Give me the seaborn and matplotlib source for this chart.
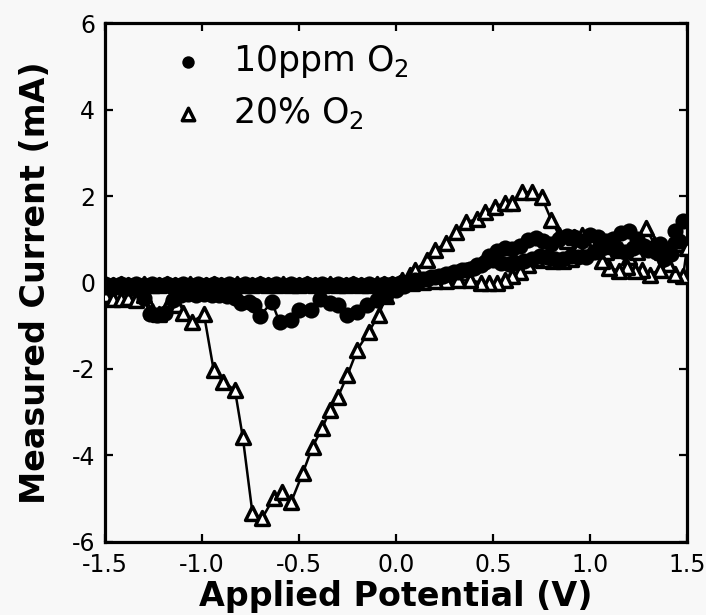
import numpy as np
import pandas as pd
import matplotlib
matplotlib.use("Agg")
import matplotlib.pyplot as plt
import seaborn as sns

# flat (upper) branch on the negative side, shared by both series
flat_x = [-1.50, -1.46, -1.42, -1.38, -1.34, -1.30, -1.26, -1.22, -1.18, -1.14,
          -1.10, -1.06, -1.02, -0.98, -0.94, -0.90, -0.86, -0.82, -0.78, -0.74,
          -0.70, -0.66, -0.62, -0.58, -0.54, -0.50, -0.46, -0.42, -0.38, -0.34,
          -0.30, -0.26, -0.22, -0.18, -0.14, -0.10, -0.06, -0.02]
flat_dots_y = [-0.04, -0.06, -0.03, -0.05, -0.04, -0.06, -0.03, -0.05, -0.04, -0.06,
               -0.03, -0.05, -0.04, -0.06, -0.03, -0.05, -0.04, -0.06, -0.03, -0.05,
               -0.04, -0.06, -0.03, -0.05, -0.04, -0.06, -0.03, -0.05, -0.04, -0.06,
               -0.03, -0.05, -0.04, -0.06, -0.03, -0.05, -0.04, -0.03]
flat_tri_y = [-0.05, -0.05, -0.04, -0.05, -0.05, -0.04, -0.05, -0.05, -0.04, -0.05,
              -0.05, -0.04, -0.05, -0.05, -0.04, -0.05, -0.05, -0.04, -0.05, -0.05,
              -0.04, -0.05, -0.05, -0.04, -0.05, -0.05, -0.04, -0.05, -0.05, -0.04,
              -0.05, -0.05, -0.04, -0.05, -0.05, -0.04, -0.04, -0.03]

# 10ppm O2 (dots)
dots_neg_x = [-1.50, -1.46, -1.42, -1.38, -1.34, -1.30, -1.27, -1.23, -1.19, -1.15,
              -1.11, -1.07, -1.03, -0.99, -0.95, -0.91, -0.87, -0.83, -0.80, -0.76,
              -0.73, -0.70, -0.64, -0.60, -0.54, -0.50, -0.44, -0.39, -0.34, -0.30,
              -0.25, -0.20, -0.15, -0.10, -0.05, 0.00]
dots_neg_y = [-0.10, -0.12, -0.10, -0.12, -0.15, -0.35, -0.72, -0.76, -0.70, -0.40,
              -0.30, -0.27, -0.29, -0.26, -0.28, -0.30, -0.32, -0.35, -0.47, -0.45,
              -0.52, -0.77, -0.45, -0.92, -0.87, -0.64, -0.64, -0.38, -0.47, -0.52,
              -0.75, -0.68, -0.52, -0.40, -0.29, -0.17]
dots_out_x = [0.04, 0.08, 0.12, 0.16, 0.20, 0.24, 0.28, 0.32, 0.36, 0.40,
              0.44, 0.48, 0.52, 0.56, 0.60, 0.64, 0.68, 0.72, 0.76, 0.80,
              0.84, 0.88, 0.92, 0.96, 1.00, 1.04, 1.08, 1.12, 1.16, 1.20,
              1.24, 1.28, 1.32, 1.36, 1.40, 1.44, 1.48]
dots_out_y = [-0.08, -0.02, 0.03, 0.08, 0.12, 0.16, 0.20, 0.24, 0.28, 0.33,
              0.40, 0.62, 0.72, 0.80, 0.78, 0.85, 0.98, 1.02, 0.95, 0.90,
              1.00, 1.08, 1.05, 0.95, 1.10, 1.05, 0.95, 1.00, 1.15, 1.18,
              1.00, 0.85, 0.80, 0.90, 0.75, 1.20, 1.42]
dots_back_x = [1.46, 1.42, 1.38, 1.34, 1.30, 1.26, 1.22, 1.18, 1.14, 1.10,
               1.06, 1.02, 0.98, 0.94, 0.90, 0.86, 0.82, 0.78, 0.74, 0.70,
               0.66, 0.62, 0.58, 0.54, 0.50, 0.46, 0.42, 0.38, 0.34, 0.30,
               0.26, 0.22, 0.18, 0.14, 0.10, 0.06, 0.02]
dots_back_y = [0.95, 0.65, 0.55, 0.70, 0.75, 0.85, 0.80, 0.70, 0.75, 0.85,
               0.80, 0.70, 0.60, 0.58, 0.62, 0.55, 0.55, 0.58, 0.62, 0.55,
               0.50, 0.45, 0.42, 0.45, 0.52, 0.48, 0.40, 0.32, 0.28, 0.25,
               0.20, 0.15, 0.12, 0.08, 0.05, 0.02, -0.02]

# 20% O2 (triangles)
tri_neg_x = [-1.50, -1.46, -1.42, -1.38, -1.34, -1.30, -1.26, -1.22, -1.17, -1.13,
             -1.10, -1.05, -0.99, -0.94, -0.89, -0.83, -0.79, -0.74, -0.69, -0.63,
             -0.59, -0.54, -0.48, -0.43, -0.38, -0.34, -0.30, -0.25, -0.20, -0.14,
             -0.09, -0.05, -0.01]
tri_neg_y = [-0.30, -0.38, -0.38, -0.36, -0.40, -0.30, -0.65, -0.72, -0.47, -0.52,
             -0.71, -0.91, -0.73, -2.02, -2.30, -2.49, -3.57, -5.33, -5.45, -4.98,
             -4.84, -5.07, -4.40, -3.80, -3.36, -2.95, -2.65, -2.14, -1.56, -1.14,
             -0.75, -0.32, -0.05]
tri_out_x = [0.03, 0.07, 0.10, 0.16, 0.20, 0.26, 0.31, 0.36, 0.42, 0.46,
             0.51, 0.56, 0.60, 0.65, 0.70, 0.75, 0.80, 0.84, 0.88, 0.92,
             0.96, 1.00, 1.04, 1.08, 1.12, 1.16, 1.20, 1.24, 1.29, 1.33,
             1.37, 1.41, 1.45, 1.50]
tri_out_y = [0.05, 0.18, 0.29, 0.52, 0.75, 0.91, 1.17, 1.39, 1.47, 1.63,
             1.75, 1.84, 1.84, 2.09, 2.09, 1.98, 1.45, 1.10, 0.95, 1.05,
             1.10, 0.95, 0.80, 0.70, 0.85, 0.75, 0.60, 0.70, 1.25, 0.90,
             0.70, 0.85, 0.90, 0.80]
tri_back_x = [1.48, 1.44, 1.40, 1.36, 1.31, 1.27, 1.23, 1.19, 1.15, 1.10,
              1.06, 1.02, 0.98, 0.94, 0.90, 0.86, 0.81, 0.76, 0.72, 0.68,
              0.64, 0.60, 0.56, 0.52, 0.48, 0.44, 0.38, 0.32, 0.26, 0.20,
              0.14, 0.08, 0.02]
tri_back_y = [0.15, 0.20, 0.42, 0.30, 0.18, 0.30, 0.27, 0.35, 0.27, 0.34,
              0.50, 0.72, 0.88, 0.80, 0.55, 0.50, 0.50, 0.52, 0.55, 0.40,
              0.25, 0.15, 0.05, 0.00, 0.00, 0.00, 0.05, 0.05, 0.04, 0.03,
              0.02, 0.00, -0.02]

x_ticks = [-1.5, -1.0, -0.5, 0.0, 0.5, 1.0, 1.5]
x_ticklabels = ['-1.5', '-1.0', '-0.5', '0.0', '0.5', '1.0', '1.5']
y_ticks = [-6, -4, -2, 0, 2, 4, 6]
y_ticklabels = ['-6', '-4', '-2', '0', '2', '4', '6']

dots = pd.DataFrame({
    'V': dots_neg_x + dots_out_x + dots_back_x + flat_x[::-1],
    'I': dots_neg_y + dots_out_y + dots_back_y + flat_dots_y[::-1],
})
tris = pd.DataFrame({
    'V': tri_neg_x + tri_out_x + tri_back_x + flat_x[::-1],
    'I': tri_neg_y + tri_out_y + tri_back_y + flat_tri_y[::-1],
})

# Plot
bg = '#f8f8f8'
sns.set_style("ticks", {'axes.grid': False, 'axes.facecolor': bg,
                        'axes.edgecolor': 'black'})
plt.rcParams['font.family'] = ['DejaVu Sans']
plt.rcParams['axes.unicode_minus'] = False
plt.rcParams['mathtext.default'] = 'regular'
plt.rcParams['text.color'] = 'black'
plt.rcParams['axes.labelcolor'] = 'black'

fig = plt.figure(figsize=(7.06, 6.15), dpi=100, facecolor=bg)
ax = fig.add_axes([0.1487, 0.1187, 0.8244, 0.8439])

# triangles underneath, dots on top
sns.lineplot(data=tris, x='V', y='I', sort=False, estimator=None,
             color='black', lw=1.8, ax=ax, zorder=2)
sns.scatterplot(data=tris, x='V', y='I', marker='^', s=100,
                facecolor='white', edgecolor='black', linewidth=2.5,
                ax=ax, zorder=3, label='20% O$_2$')
sns.lineplot(data=dots, x='V', y='I', sort=False, estimator=None,
             color='black', lw=1.8, ax=ax, zorder=4)
sns.scatterplot(data=dots, x='V', y='I', marker='o', s=135,
                color='black', edgecolor='black', linewidth=0,
                ax=ax, zorder=5, label='10ppm O$_2$')

handles, labels = ax.get_legend_handles_labels()
leg = ax.legend(handles[::-1], labels[::-1], loc='upper left',
                bbox_to_anchor=(0.113, 0.962), frameon=False, fontsize=25,
                handlelength=1.0, handletextpad=0.8, borderpad=0,
                borderaxespad=0, labelspacing=0.45)
for h in leg.legend_handles:
    h.set_sizes([80])

ax.set_xlim(-1.5, 1.5)
ax.set_ylim(-6, 6)
ax.set_xticks(x_ticks)
ax.set_xticklabels(x_ticklabels)
ax.set_yticks(y_ticks)
ax.set_yticklabels(y_ticklabels)

ax.set_xlabel('Applied Potential (V)', fontsize=24, fontweight='bold',
              labelpad=2)
ax.set_ylabel('Measured Current (mA)', fontsize=24, fontweight='bold',
              labelpad=14)

ax.tick_params(axis='both', which='major', direction='in', top=True,
               right=True, length=6, width=1.6, labelsize=17,
               labelcolor='black', color='black')
ax.tick_params(axis='x', pad=8)
ax.tick_params(axis='y', pad=7)
for sp in ax.spines.values():
    sp.set_linewidth(2.3)

plt.savefig('out.png', dpi=100, facecolor=bg)
